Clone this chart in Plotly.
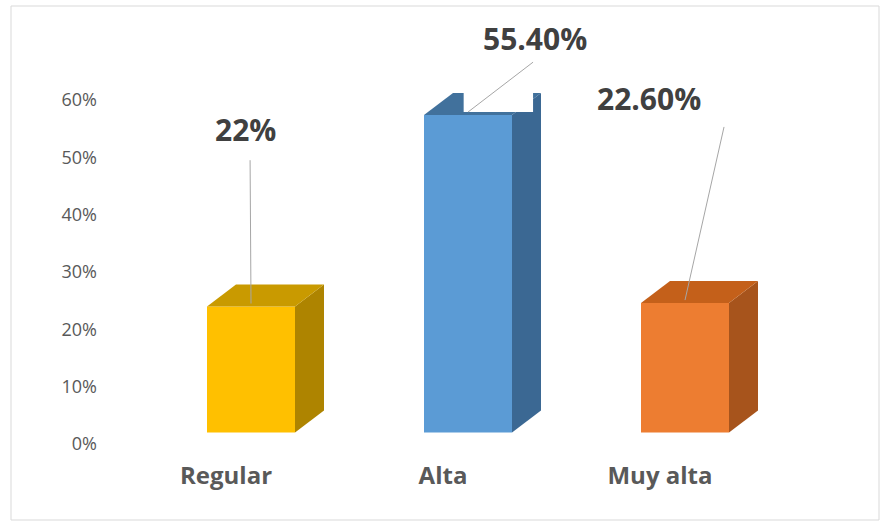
import plotly.graph_objects as go

# ---------------- data ----------------
categories = ["Regular", "Alta", "Muy alta"]
values = [22.0, 55.4, 22.6]
value_labels = ["22%", "55.40%", "22.60%"]
y_ticks = [0, 10, 20, 30, 40, 50, 60]
y_tick_labels = ["0%", "10%", "20%", "30%", "40%", "50%", "60%"]

# ---------------- style ----------------
front_colors = ["#FFC000", "#5B9BD5", "#ED7D31"]
side_colors = ["#AE8400", "#3B6893", "#A7541C"]
top_colors = ["#C99A00", "#41719C", "#C4601A"]

W, H = 890, 529
L, R, T, B = 110, 860, 20, 444          # plot area in pixels
PX_PER_X = 217.0                        # pixels per category step
PX_PER_Y = 344.0 / 60.0                 # pixels per percentage point
FLOOR = 2.0                             # 3D floor thickness (percentage points)
BAR_W = 88 / PX_PER_X
BAR_OFF = -19 / PX_PER_X
DX = 29 / PX_PER_X
DY = 22 / PX_PER_Y

LABEL_DX = [0.088, 0.424, -0.051]
LABEL_DY = [30.8, 13.4, 35.6]
LEADER_START_DX = [0.023, -0.009, 0.346]
LEADER_START_DY = [-5.3, -4.2, -4.9]
BOXED = [False, True, False]

x_range = [-(226 - L) / PX_PER_X, 2 + (R - 660) / PX_PER_X]
y_range = [0, (B - T) / PX_PER_Y]
xs = list(range(len(categories)))

fig = go.Figure()

# front faces
fig.add_trace(go.Bar(
    x=xs, y=values, base=FLOOR, width=BAR_W, offset=BAR_OFF,
    marker=dict(color=front_colors, line=dict(width=0)),
    hoverinfo="skip", showlegend=False,
))

# side and top faces computed from the values
for i, v in enumerate(values):
    x0 = i + BAR_OFF
    x1 = x0 + BAR_W
    yb = FLOOR
    yt = FLOOR + v
    fig.add_trace(go.Scatter(
        x=[x1, x1, x1 + DX, x1 + DX, x1],
        y=[yb, yt, yt + DY, yb + DY, yb],
        fill="toself", fillcolor=side_colors[i], mode="lines",
        line=dict(width=0), hoverinfo="skip", showlegend=False,
    ))
    fig.add_trace(go.Scatter(
        x=[x0, x1, x1 + DX, x0 + DX, x0],
        y=[yt, yt, yt + DY, yt + DY, yt],
        fill="toself", fillcolor=top_colors[i], mode="lines",
        line=dict(width=0), hoverinfo="skip", showlegend=False,
    ))

shapes = []
annotations = []
for i, v in enumerate(values):
    top = FLOOR + v
    lx = i + LABEL_DX[i]
    ly = top + LABEL_DY[i]
    sx = lx + LEADER_START_DX[i]
    sy = ly + LEADER_START_DY[i]
    ex = i + BAR_OFF + BAR_W / 2
    ey = top + 0.5
    if BOXED[i]:
        shapes.append(dict(type="rect", xref="x", yref="y", x0=ex - 0.02, x1=sx, y0=ey, y1=sy,
                           fillcolor="white", line=dict(width=0), layer="above"))
    shapes.append(dict(type="line", xref="x", yref="y", x0=sx, y0=sy, x1=ex, y1=ey,
                       line=dict(color="#A6A6A6", width=1), layer="above"))
    annotations.append(dict(
        x=lx, y=ly, xref="x", yref="y", text="<b>%s</b>" % value_labels[i],
        showarrow=False, font=dict(family="Open Sans", size=30, color="#404040"),
        xanchor="center", yanchor="middle",
    ))

# outer chart frame
def px_x(p):
    return (p - L) / (R - L)

def px_y(p):
    return (B - p) / (B - T)

shapes.append(dict(type="rect", xref="paper", yref="paper",
                   x0=px_x(11), x1=px_x(879), y0=px_y(520), y1=px_y(6),
                   line=dict(color="#D9D9D9", width=1), fillcolor="rgba(0,0,0,0)",
                   layer="below"))

fig.update_layout(
    width=W, height=H, autosize=False,
    margin=dict(l=L, r=W - R, t=T, b=H - B),
    paper_bgcolor="white", plot_bgcolor="white",
    showlegend=False,
    shapes=shapes, annotations=annotations,
    xaxis=dict(range=x_range, tickmode="array", tickvals=xs,
               ticktext=["<b>%s</b>" % c for c in categories],
               tickfont=dict(family="Open Sans", size=24, color="#595959"),
               showgrid=False, zeroline=False, showline=False, ticks="",
               ticklabelstandoff=15, fixedrange=True),
    yaxis=dict(range=y_range, tickmode="array", tickvals=y_ticks, ticktext=y_tick_labels,
               tickfont=dict(family="Open Sans", size=18, color="#595959"),
               showgrid=False, zeroline=False, showline=False, ticks="",
               ticklabelstandoff=12, fixedrange=True),
)

fig.write_html("out.html", config={"displayModeBar": False},
               post_script="document.body.style.margin='0';")
